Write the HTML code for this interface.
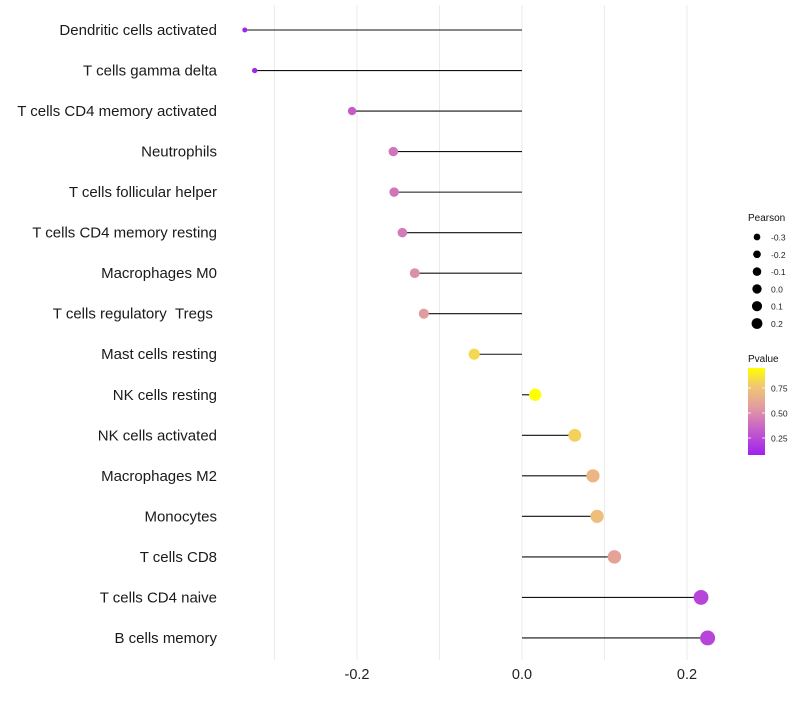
<!DOCTYPE html>
<html><head><meta charset="utf-8">
<style>body{margin:0;background:#fff}svg{font-family:"Liberation Sans",sans-serif}text{white-space:pre}</style></head>
<body>
<svg id="chart" width="800" height="700" xml:space="preserve">
<defs><linearGradient id="pg" x1="0" y1="1" x2="0" y2="0">
<stop offset="0" stop-color="#a020f0"/><stop offset="0.3" stop-color="#c860c8"/><stop offset="0.55" stop-color="#e29ca0"/><stop offset="0.8" stop-color="#f2c870"/><stop offset="1" stop-color="#ffff00"/></linearGradient></defs>
</svg>
<script>
const categories=["Dendritic cells activated","T cells gamma delta","T cells CD4 memory activated","Neutrophils","T cells follicular helper","T cells CD4 memory resting","Macrophages M0","T cells regulatory\u00a0\u00a0Tregs\u00a0","Mast cells resting","NK cells resting","NK cells activated","Macrophages M2","Monocytes","T cells CD8","T cells CD4 naive","B cells memory"];
const pearson=[-0.336,-0.324,-0.206,-0.156,-0.155,-0.145,-0.130,-0.119,-0.058,0.016,0.064,0.086,0.091,0.112,0.217,0.225];
const pvalue=[0.10,0.10,0.30,0.40,0.40,0.42,0.50,0.55,0.82,0.97,0.80,0.68,0.72,0.58,0.22,0.22];
const xTicks=[-0.2,0.0,0.2];
const xTickLabels=["-0.2","0.0","0.2"];
const gridVals=[-0.3,-0.2,-0.1,0,0.1,0.2];
const sizeLegend=[-0.3,-0.2,-0.1,0.0,0.1,0.2];
const pTicks=[0.25,0.5,0.75];

const NS="http://www.w3.org/2000/svg";
const svg=document.getElementById('chart');
const xs=v=>522+v*825;
const ys=i=>30+i*40.53;
const rs=v=>Math.sqrt(Math.max(1,36+88.7*v));
const rl=v=>Math.sqrt(Math.max(1,22+36*v));
function lerp(a,b,t){return a.map((x,i)=>Math.round(x+(b[i]-x)*t));}
const stops=[[0.08,[160,32,240]],[0.32,[200,96,200]],[0.55,[226,156,160]],[0.77,[242,200,112]],[0.95,[255,255,0]]];
function col(p){if(p<=stops[0][0])return 'rgb('+stops[0][1]+')';for(let i=0;i<stops.length-1;i++){const[a,ca]=stops[i],[b,cb]=stops[i+1];if(p<=b)return 'rgb('+lerp(ca,cb,(p-a)/(b-a))+')';}return 'rgb(255,255,0)';}
function mk(t,a,parent){const e=document.createElementNS(NS,t);for(const k in a)e.setAttribute(k,a[k]);(parent||svg).appendChild(e);return e;}
gridVals.forEach(v=>{const g=mk('line',{x1:xs(v),x2:xs(v),y1:5,y2:660,stroke:'#ebebeb','stroke-width':1});

});
xTicks.forEach((v,i)=>{const t=mk('text',{x:xs(v),y:679,'text-anchor':'middle','font-size':14.5,fill:'#222'});t.textContent=xTickLabels[i];

});
categories.forEach((c,i)=>{
const y=ys(i);
const t=mk('text',{x:217,y:y+5,'text-anchor':'end','font-size':15,fill:'#1a1a1a'});t.textContent=c;


const l=mk('line',{x1:xs(0),x2:xs(pearson[i]),y1:y,y2:y,stroke:'#111','stroke-width':1.1});


const p=mk('circle',{cx:xs(pearson[i]),cy:y,r:rs(pearson[i]),fill:col(pvalue[i])});


});
let tt=mk('text',{x:748,y:221,'font-size':10,fill:'#111'});tt.textContent='Pearson';


sizeLegend.forEach((v,i)=>{const y=237+i*17.3;
const c=mk('circle',{cx:757,cy:y,r:rl(v),fill:'#000'});


const t=mk('text',{x:771,y:y+3.5,'font-size':8.5,fill:'#222'});t.textContent=v.toFixed(1);

});
tt=mk('text',{x:748,y:362,'font-size':10,fill:'#111'});tt.textContent='Pvalue';


const bar=mk('rect',{x:748,y:368,width:17,height:87,fill:'url(#pg)'});


const py=p=>438-(p-0.25)*100;
pTicks.forEach(p=>{const y=py(p);
const k=mk('line',{x1:748,x2:751,y1:y,y2:y,stroke:'#fff','stroke-width':0.8});


const k2=mk('line',{x1:762,x2:765,y1:y,y2:y,stroke:'#fff','stroke-width':0.8});


const t=mk('text',{x:771,y:y+3.5,'font-size':8.5,fill:'#222'});t.textContent=p.toFixed(2);

});
</script>
</body></html>
